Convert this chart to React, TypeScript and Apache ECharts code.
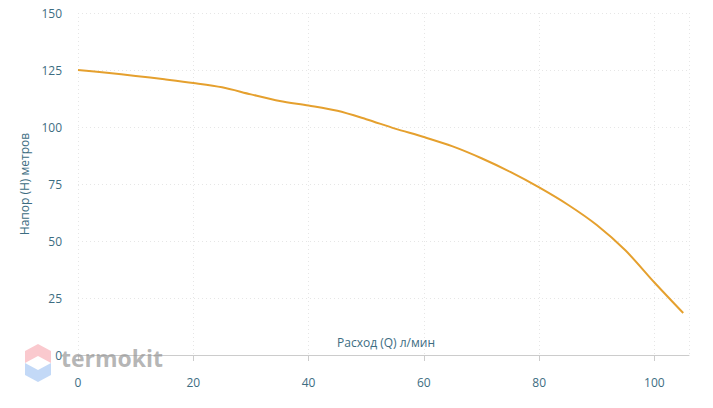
import React, { useEffect, useRef } from "react";
import * as echarts from "echarts";

const flowQ = [0, 5, 10, 15, 20, 25, 30, 35, 40, 45, 50, 55, 60, 65, 70, 75, 80, 85, 90, 95, 100, 105];
const headH = [125, 123.8, 122.4, 120.9, 119.3, 117.4, 114.3, 111.4, 109.4, 107.1, 103.4, 99.3, 95.6, 91.5, 86.3, 80.3, 73.5, 65.9, 57.0, 45.8, 31.8, 18.4];
const xTitle = "Расход (Q) л/мин";
const yTitle = "Напор (H) метров";
const watermark = "termokit";

const labelColor = "#3d6d82";
const font = "'Open Sans', 'DejaVu Sans', sans-serif";

export default function App() {
  const ref = useRef<HTMLDivElement>(null);
  useEffect(() => {
    if (!ref.current) return;
    const chart = echarts.init(ref.current, undefined, { renderer: "svg" });
    chart.setOption({
      animation: false,
      grid: { left: 78, right: 24, top: 13, bottom: 53, containLabel: false },
      xAxis: {
        type: "value",
        min: 0,
        max: 106,
        interval: 20,
        axisLine: { show: true, lineStyle: { color: "#cccccc" } },
        axisTick: { show: true, length: 6, lineStyle: { color: "#cccccc" } },
        axisLabel: { color: labelColor, fontSize: 12, fontFamily: font, margin: 21, showMaxLabel: false },
        splitLine: { show: true, lineStyle: { color: "#e6e6e6", type: [1, 3] } },
      },
      yAxis: {
        type: "value",
        min: 0,
        max: 150,
        interval: 25,
        name: yTitle,
        nameLocation: "middle",
        nameGap: 46,
        nameTextStyle: { color: labelColor, fontSize: 12, fontFamily: font },
        axisLine: { show: false },
        axisTick: { show: false },
        axisLabel: { color: labelColor, fontSize: 12, fontFamily: font, margin: 16 },
        splitLine: { show: true, lineStyle: { color: "#e6e6e6", type: [1, 3] } },
      },
      series: [
        {
          type: "line",
          data: flowQ.map((q, i) => [q, headH[i]]),
          smooth: 0.3,
          showSymbol: false,
          lineStyle: { color: "#e5a02e", width: 2 },
        },
      ],
      graphic: [
        {
          type: "text",
          x: 386,
          y: 342,
          style: {
            text: xTitle,
            fill: labelColor,
            font: "12px 'Open Sans', 'DejaVu Sans', sans-serif",
            align: "center",
            verticalAlign: "middle",
          },
          z: 50,
        },
        {
          type: "polygon",
          shape: { points: [[25, 351], [38, 344], [51, 351], [51, 363], [38, 356], [25, 363]] },
          style: { fill: "#f9c3c9", opacity: 0.9 },
          z: 100,
        },
        {
          type: "polygon",
          shape: { points: [[25, 363], [38, 370], [51, 363], [51, 375], [38, 382], [25, 375]] },
          style: { fill: "#bcd5f6", opacity: 0.9 },
          z: 100,
        },
        {
          type: "text",
          x: 61,
          y: 358,
          style: {
            text: watermark,
            fill: "rgba(150,150,150,0.7)",
            font: "bold 23px 'Open Sans', 'DejaVu Sans', sans-serif",
            verticalAlign: "middle",
          },
          z: 100,
        },
      ],
    });
    return () => chart.dispose();
  }, []);
  return <div ref={ref} style={{ width: 713, height: 408, position: "absolute", left: 0, top: 0 }} />;
}
